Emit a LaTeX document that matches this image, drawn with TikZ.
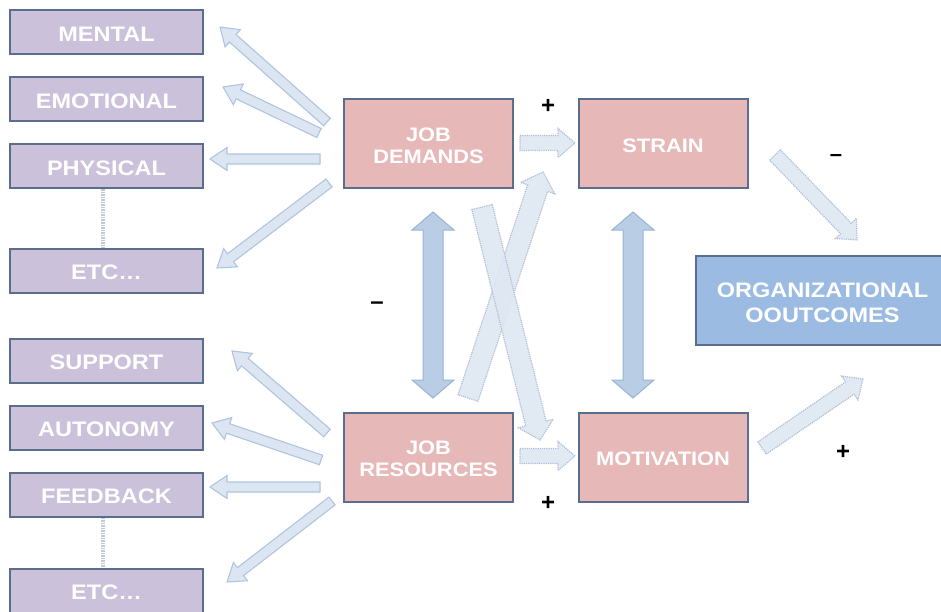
\documentclass[tikz,border=0pt]{standalone}
\usepackage{fontspec}
\setmainfont{Liberation Sans}
\newfontfamily\boxfont[FakeStretch=1.12]{Liberation Sans}
\usetikzlibrary{calc}

\definecolor{purp}{HTML}{CCC1DA}
\definecolor{pinkc}{HTML}{E6B9B8}
\definecolor{bluec}{HTML}{9BBBE3}
\definecolor{edgec}{HTML}{5A6D8C}
\definecolor{lafill}{HTML}{DCE6F2}
\definecolor{ladraw}{HTML}{AFC4DE}
\definecolor{dafill}{HTML}{B9CDE5}
\definecolor{dadraw}{HTML}{98B3D4}
\definecolor{dotfill}{HTML}{DEE7F2}
\definecolor{dotdraw}{HTML}{AFC0D6}
\definecolor{dotline}{HTML}{BFC8D6}

% block arrow: options, from, to, shaft half width, head half width, head length
\newcommand{\blockarrow}[6]{%
  \draw[#1] ($(#2)!#4!90:(#3)$)
    -- ($($(#3)!#6!(#2)$)!#4!90:(#3)$)
    -- ($($(#3)!#6!(#2)$)!#5!90:(#3)$)
    -- (#3)
    -- ($($(#3)!#6!(#2)$)!#5!-90:(#3)$)
    -- ($($(#3)!#6!(#2)$)!#4!-90:(#3)$)
    -- ($(#2)!#4!-90:(#3)$) -- cycle;}

% double-headed block arrow: options, end a, end b, shaft half, head half, head length
\newcommand{\twinarrow}[6]{%
  \draw[#1] (#2)
    -- ($($(#2)!#6!(#3)$)!#5!90:(#3)$)
    -- ($($(#2)!#6!(#3)$)!#4!90:(#3)$)
    -- ($($(#3)!#6!(#2)$)!#4!-90:(#2)$)
    -- ($($(#3)!#6!(#2)$)!#5!-90:(#2)$)
    -- (#3)
    -- ($($(#3)!#6!(#2)$)!#5!90:(#2)$)
    -- ($($(#3)!#6!(#2)$)!#4!90:(#2)$)
    -- ($($(#2)!#6!(#3)$)!#4!-90:(#3)$)
    -- ($($(#2)!#6!(#3)$)!#5!-90:(#3)$)
    -- cycle;}

\begin{document}
\begin{tikzpicture}[x=1pt,y=-1pt,
  box/.style={draw=edgec, line width=2pt, inner sep=0pt},
  boxtext/.style={inner sep=0pt, align=center, text=white, yshift=-2.2pt},
  factor/.style={box, fill=purp, minimum width=193pt, minimum height=44pt},
  factortext/.style={boxtext, font=\boxfont\bfseries\fontsize{21}{24}\selectfont},
  core/.style={box, fill=pinkc, minimum width=169pt, minimum height=89pt},
  coretext/.style={boxtext, yshift=0.8pt, font=\boxfont\bfseries\fontsize{19.5}{22}\selectfont},
  outcome/.style={box, fill=bluec, minimum width=253pt, minimum height=89pt},
  outcometext/.style={boxtext, font=\boxfont\bfseries\fontsize{21}{25.5}\selectfont},
  sign/.style={inner sep=0pt, text=black, font=\bfseries\fontsize{24}{24}\selectfont},
  leftarrow/.style={fill=lafill, draw=ladraw, line width=1.1pt, line join=miter},
  twin/.style={fill=dafill, draw=dadraw, line width=1pt, line join=miter},
  flow/.style={fill=dotfill, fill opacity=0.9, draw=dotdraw, draw opacity=1, line width=1.2pt, densely dotted},
  dotted link/.style={draw=dotline, line width=3.5pt, dash pattern=on 1.5pt off 1pt}
]
\useasboundingbox (0,0) rectangle (941,612);

% demand and resource factors
\node[factor, label={[factortext]center:MENTAL}]    (mental)   at (106.5,32)    {};
\node[factor, label={[factortext]center:EMOTIONAL}] (emot)     at (106.5,99.5)  {};
\node[factor, label={[factortext]center:PHYSICAL}]  (phys)     at (106.5,166.5) {};
\node[factor, label={[factortext]center:ETC…}]      (etcA)     at (106.5,270.5) {};
\node[factor, label={[factortext]center:SUPPORT}]   (support)  at (106.5,360.5) {};
\node[factor, label={[factortext]center:AUTONOMY}]  (auton)    at (106.5,427.5) {};
\node[factor, label={[factortext]center:FEEDBACK}]  (feedback) at (106.5,494.5) {};
\node[factor, label={[factortext]center:ETC…}]      (etcB)     at (106.5,590.5) {};

\draw[dotted link] ([xshift=-3.5pt]phys.south) -- ([xshift=-3.5pt]etcA.north);
\draw[dotted link] ([xshift=-3.5pt]feedback.south) -- ([xshift=-3.5pt]etcB.north);

% central model
\node[core, label={[coretext]center:{JOB\\DEMANDS}}]   (jd)  at (428.5,144) {};
\node[core, label={[coretext]center:STRAIN}]           (str) at (663,144)   {};
\node[core, label={[coretext]center:{JOB\\RESOURCES}}] (jr)  at (428.5,457) {};
\node[core, label={[coretext]center:MOTIVATION}]       (mot) at (663,457)   {};
\node[outcome, label={[outcometext]center:{ORGANIZATIONAL\\OOUTCOMES}}] (oo) at (822.5,300.5) {};

% arrow end points
\coordinate (dM0) at (327,122);  \coordinate (dM1) at (220,27);
\coordinate (dE0) at (319,133);  \coordinate (dE1) at (223,87);
\coordinate (dP0) at (320,159);  \coordinate (dP1) at (210,159);
\coordinate (dX0) at (329,183);  \coordinate (dX1) at (217,268);
\coordinate (rS0) at (327,433);  \coordinate (rS1) at (232,351);
\coordinate (rA0) at (321,460);  \coordinate (rA1) at (212,423);
\coordinate (rF0) at (320,487);  \coordinate (rF1) at (210,487);
\coordinate (rX0) at (332,501);  \coordinate (rX1) at (227,582);

\coordinate (twL0) at (433,212); \coordinate (twL1) at (433,398);
\coordinate (twR0) at (633,212); \coordinate (twR1) at (633,398);

\coordinate (hD0) at (520,143);  \coordinate (hD1) at (575,143);
\coordinate (hR0) at (520,456);  \coordinate (hR1) at (575,456);
\coordinate (xU0) at (468,398);  \coordinate (xU1) at (543,172);
\coordinate (xD0) at (482,207);  \coordinate (xD1) at (540,440);
\coordinate (oS0) at (775,155);  \coordinate (oS1) at (857,240);
\coordinate (oM0) at (762,448);  \coordinate (oM1) at (863,379);

% links from the job boxes out to their factors
\blockarrow{leftarrow}{dM0}{dM1}{5pt}{11.5pt}{17pt}
\blockarrow{leftarrow}{dE0}{dE1}{5pt}{11.5pt}{17pt}
\blockarrow{leftarrow}{dP0}{dP1}{5pt}{11.5pt}{17pt}
\blockarrow{leftarrow}{dX0}{dX1}{5pt}{11.5pt}{17pt}
\blockarrow{leftarrow}{rS0}{rS1}{5pt}{11.5pt}{17pt}
\blockarrow{leftarrow}{rA0}{rA1}{5pt}{11.5pt}{17pt}
\blockarrow{leftarrow}{rF0}{rF1}{5pt}{11.5pt}{17pt}
\blockarrow{leftarrow}{rX0}{rX1}{5pt}{11.5pt}{17pt}

% reciprocal links
\twinarrow{twin}{twL0}{twL1}{10pt}{21pt}{18pt}
\twinarrow{twin}{twR0}{twR1}{10pt}{21pt}{18pt}

% causal paths
\blockarrow{flow}{hD0}{hD1}{7.5pt}{14.5pt}{17pt}
\blockarrow{flow}{hR0}{hR1}{7.5pt}{14.5pt}{17pt}
\blockarrow{flow}{xU0}{xU1}{10.5pt}{18pt}{17pt}
\blockarrow{flow}{xD0}{xD1}{10.5pt}{18pt}{17pt}
\blockarrow{flow}{oS0}{oS1}{7.5pt}{14.5pt}{16pt}
\blockarrow{flow}{oM0}{oM1}{7.5pt}{14.5pt}{16pt}

% signs
\node[sign] (p1) at (548,106.5) {+};
\node[sign] (p2) at (548,503)   {+};
\node[sign] (p3) at (843,452)   {+};
\node[sign, font=\bfseries\fontsize{24}{24}\selectfont] (m1) at (377,306) {–};
\node[sign, font=\bfseries\fontsize{22}{22}\selectfont] (m2) at (836,158) {–};
\end{tikzpicture}
\end{document}
